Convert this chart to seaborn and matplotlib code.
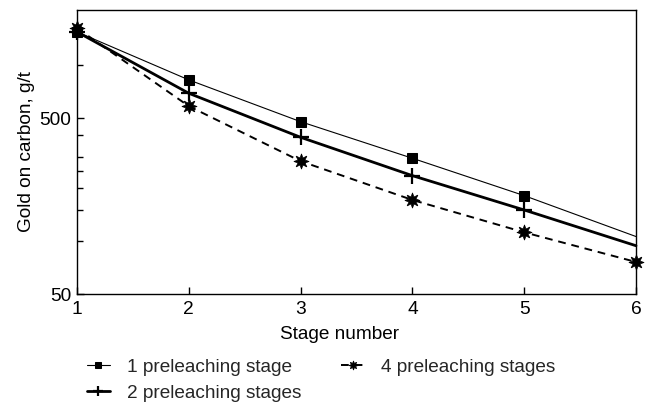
import numpy as np
import pandas as pd
import matplotlib
matplotlib.use("Agg")
import matplotlib.pyplot as plt
import seaborn as sns
from matplotlib.ticker import FixedLocator, NullFormatter

stages = [1, 2, 3, 4, 5, 6]
one_stage = [1540, 822, 476, 295, 181, 106]
two_stages = [1540, 690, 388, 235, 150, 94]
four_stages = [1617, 583, 284, 171, 112, 76]
labels = ["1 preleaching stage", "2 preleaching stages", "4 preleaching stages"]
y_major = [50, 500]
y_minor = [100, 150, 200, 250, 300, 400, 1000]

sns.set_theme(style="white")
plt.rcParams['font.family'] = ['Liberation Sans', 'DejaVu Sans']

fig = plt.figure(figsize=(6.49, 4.06), dpi=100)
ax = fig.add_axes([77/649, 1-295/406, (636-77)/649, (295-11)/406])

df1 = pd.DataFrame({"stage": stages, "gold": one_stage})
df2 = pd.DataFrame({"stage": stages, "gold": two_stages})
df4 = pd.DataFrame({"stage": stages, "gold": four_stages})

sns.lineplot(data=df1, x="stage", y="gold", ax=ax, color="black", lw=0.8,
             marker="s", markersize=7.5, markeredgecolor="black",
             markerfacecolor="black", markevery=[0, 1, 2, 3, 4],
             label=labels[0], clip_on=False)
sns.lineplot(data=df2, x="stage", y="gold", ax=ax, color="black", lw=2.0,
             marker="+", markersize=12, markeredgewidth=1.6,
             markeredgecolor="black", markevery=[0, 1, 2, 3, 4],
             label=labels[1], clip_on=False)
sns.lineplot(data=df4, x="stage", y="gold", ax=ax, color="black", lw=1.4,
             linestyle=(0, (4, 3)), marker=(8, 1, 0), markersize=11,
             markeredgecolor="black", markerfacecolor="black",
             markeredgewidth=0.5, label=labels[2], clip_on=False)

ax.set_yscale("log")
ax.set_xlim(1, 6)
ax.set_ylim(50, 2050)
ax.set_xticks(stages)
ax.set_xticklabels([str(s) for s in stages])
ax.yaxis.set_major_locator(FixedLocator(y_major))
ax.set_yticklabels([str(v) for v in y_major])
ax.yaxis.set_minor_locator(FixedLocator(y_minor))
ax.yaxis.set_minor_formatter(NullFormatter())
ax.tick_params(axis="both", which="both", direction="in", colors="black",
               labelsize=13.8, pad=4)
ax.tick_params(axis="both", which="major", length=5, width=1)
ax.tick_params(axis="y", which="minor", length=4, width=1, left=True)
ax.tick_params(axis="x", bottom=True)
ax.tick_params(axis="y", left=True)
for s in ax.spines.values():
    s.set_color("black")
    s.set_linewidth(1.0)

ax.set_xlabel("Stage number", fontsize=13.7, color="black")
ax.set_ylabel("Gold on carbon, g/t", fontsize=13.7, color="black")
ax.xaxis.set_label_coords((340-77)/(636-77), -(335-295)/(295-11), transform=ax.transAxes)
ax.xaxis.label.set_va("center")
ax.yaxis.set_label_coords(-(77-27)/(636-77), (295-152)/(295-11))
ax.yaxis.label.set_va("center")

h, l = ax.get_legend_handles_labels()
ax.get_legend().remove()
fig.legend(h, l, ncol=2, loc="upper left", bbox_to_anchor=(87/649, 1-359/406),
           frameon=False, fontsize=13.7, handlelength=1.2, handletextpad=0.9,
           columnspacing=2.1, labelspacing=0.45, borderpad=0, borderaxespad=0,
           markerscale=0.6)

fig.savefig("out.png", dpi=100)
